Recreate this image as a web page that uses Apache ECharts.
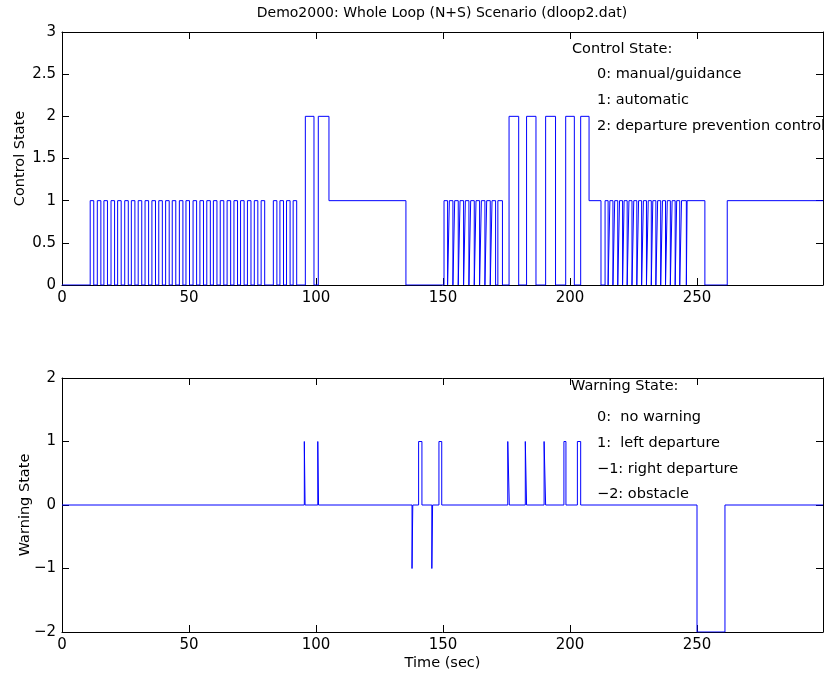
<!DOCTYPE html>
<html><head><meta charset="utf-8">
<script src="https://cdn.jsdelivr.net/npm/echarts@6/dist/echarts.min.js"></script>
<style>html,body{margin:0;padding:0;background:#fff}#c{width:830px;height:681px}</style>
</head><body><div id="c"></div><script>
// ---- data ----
const chartTitle = 'Demo2000: Whole Loop (N+S) Scenario (dloop2.dat)';
const xTickStep = 50;
const xMax = 299.6;
const ctrlYTicks = [0, 3, 0.5];   // min, max, step
const warnYTicks = [-2, 2, 1];

// control state change points (time in sec -> new state)
const ctrlTimes = [
  0,
  11.1,12.5, 13.9,15.3, 16.5,17.9, 19.3,20.7, 21.9,23.3, 24.7,26.1, 27.3,28.7, 30.0,31.4,
  32.7,34.1, 35.4,36.8, 38.1,39.5, 40.8,42.2, 43.4,44.8, 46.2,47.6, 48.8,50.2, 51.6,53.0,
  54.3,55.7, 57.0,58.4, 59.6,61.0, 62.3,63.7, 65.0,66.4, 67.7,69.1, 70.3,71.7, 73.0,74.4,
  75.7,77.1, 78.4,79.8, 83.2,84.6, 85.8,87.2, 88.4,89.8, 91.0,92.4,
  95.8, 99.2, 100.9, 105.1, 135.4,
  150.4,151.8, 152.5,153.9, 154.6,156.0, 156.7,158.1, 158.8,160.2, 160.9,162.3,
  163.0,164.4, 165.1,166.5, 167.2,168.6, 169.3,170.7, 171.6,173.4,
  176.0, 179.8, 182.9, 186.6, 190.4, 194.3, 198.3, 201.7, 204.2, 207.5, 212.2,
  213.8,215.0, 215.7,216.9, 217.6,218.8, 219.5,220.7, 221.3,222.5, 223.2,224.4,
  225.1,226.3, 227.0,228.2, 228.9,230.1, 230.8,232.0, 232.6,233.8, 234.5,235.7,
  236.4,237.6, 238.3,239.5, 240.2,241.4, 242.0,243.2, 243.9,245.8,
  246.1, 253.1, 261.9, 299.6
];
const ctrlStates = [
  0,
  1,0, 1,0, 1,0, 1,0, 1,0, 1,0, 1,0, 1,0,
  1,0, 1,0, 1,0, 1,0, 1,0, 1,0, 1,0, 1,0,
  1,0, 1,0, 1,0, 1,0, 1,0, 1,0, 1,0, 1,0,
  1,0, 1,0, 1,0, 1,0, 1,0, 1,0,
  2, 0, 2, 1, 0,
  1,0, 1,0, 1,0, 1,0, 1,0, 1,0,
  1,0, 1,0, 1,0, 1,0, 1,0,
  2, 0, 2, 0, 2, 0, 2, 0, 2, 1, 0,
  1,0, 1,0, 1,0, 1,0, 1,0, 1,0,
  1,0, 1,0, 1,0, 1,0, 1,0, 1,0,
  1,0, 1,0, 1,0, 1,0, 1,0,
  1, 0, 1, 1
];

// warning state change points
const warnTimes = [0, 95.4, 95.7, 100.7, 101.0, 137.8, 138.1, 140.4, 141.7, 145.6, 145.9,
  148.4, 149.5, 175.5, 176.1, 182.4, 182.9, 189.8, 190.4, 197.6, 198.4, 202.9, 204.2,
  250.0, 261.0, 299.6];
const warnStates = [0, 1, 0, 1, 0, -1, 0, 1, 0, -1, 0,
  1, 0, 1, 0, 1, 0, 1, 0, 1, 0, 1, 0,
  -2, 0, 0];

const ctrlLegend = ['Control State:', '0: manual/guidance', '1: automatic', '2: departure prevention control'];
const warnLegend = ['Warning State:', '0:  no warning', '1:  left departure', '\u22121: right departure', '\u22122: obstacle'];

// ---- chart ----
const FONT = 'DejaVu Sans';
const TICK_FS = 15, NAME_FS = 14.5, TITLE_FS = 14, LEG_FS = 14.5;
const zip = (a, b) => a.map((t, i) => [t, b[i]]);
const fmtNum = v => (v < 0 ? '\u2212' + Math.abs(v) : String(v));

function xAx(grid, pos, labels, name) {
  return {
    type: 'value', gridIndex: grid, position: pos, min: 0, max: xMax, interval: xTickStep,
    axisLine: { show: true, onZero: false, lineStyle: { color: '#000', width: 1 } },
    axisTick: { show: true, inside: true, length: 7, lineStyle: { color: '#000' } },
    axisLabel: { show: labels, color: '#000', fontFamily: FONT, fontSize: TICK_FS, margin: 6,
      showMaxLabel: false, formatter: v => (v % xTickStep === 0 ? String(v) : '') },
    splitLine: { show: false },
    name: name || '', nameLocation: 'middle', nameGap: 24, nameMoveOverlap: false,
    nameTextStyle: { color: '#000', fontFamily: FONT, fontSize: NAME_FS }
  };
}
function yAx(grid, pos, tk, labels, name, gap) {
  return {
    type: 'value', gridIndex: grid, position: pos, min: tk[0], max: tk[1], interval: tk[2],
    axisLine: { show: true, onZero: false, lineStyle: { color: '#000', width: 1 } },
    axisTick: { show: true, inside: true, length: 7, lineStyle: { color: '#000' } },
    axisLabel: { show: labels, color: '#000', fontFamily: FONT, fontSize: TICK_FS, margin: 6, formatter: fmtNum },
    splitLine: { show: false },
    name: name || '', nameLocation: 'middle', nameGap: gap || 30, nameMoveOverlap: false,
    nameTextStyle: { color: '#000', fontFamily: FONT, fontSize: NAME_FS }
  };
}

const txt = (x, y, s, fs, align) => ({ type: 'text', x: x, y: y,
  style: { text: s, font: fs + 'px "' + FONT + '"', fill: '#000', textAlign: align || 'left', textVerticalAlign: 'middle' } });
const graphics = [txt(442, 13, chartTitle, TITLE_FS, 'center')];
const ctrlLegY = [49, 74, 100, 126];
ctrlLegend.forEach((s, i) => graphics.push(txt(i === 0 ? 572 : 597, ctrlLegY[i], s, LEG_FS)));
const warnLegY = [386, 417, 443, 469, 494];
warnLegend.forEach((s, i) => graphics.push(txt(i === 0 ? 571 : 597, warnLegY[i], s, LEG_FS)));

const chart = echarts.init(document.getElementById('c'), null, { renderer: 'canvas' });
chart.setOption({
  animation: false,
  backgroundColor: '#fff',
  grid: [
    { left: 62, top: 32, width: 761, height: 253 },
    { left: 62, top: 378, width: 761, height: 254 }
  ],
  xAxis: [xAx(0, 'bottom', true), xAx(0, 'top', false), xAx(1, 'bottom', true, 'Time (sec)'), xAx(1, 'top', false)],
  yAxis: [yAx(0, 'left', ctrlYTicks, true, 'Control State', 34), yAx(0, 'right', ctrlYTicks, false),
          yAx(1, 'left', warnYTicks, true, 'Warning State', 29), yAx(1, 'right', warnYTicks, false)],
  graphic: graphics,
  series: [
    { type: 'line', step: 'end', xAxisIndex: 0, yAxisIndex: 0, data: zip(ctrlTimes, ctrlStates),
      showSymbol: false, symbol: 'none', lineStyle: { color: '#0000ff', width: 1 }, z: 3 },
    { type: 'line', step: 'end', xAxisIndex: 2, yAxisIndex: 2, data: zip(warnTimes, warnStates),
      showSymbol: false, symbol: 'none', lineStyle: { color: '#0000ff', width: 1 }, z: 3 }
  ]
});
</script></body></html>
